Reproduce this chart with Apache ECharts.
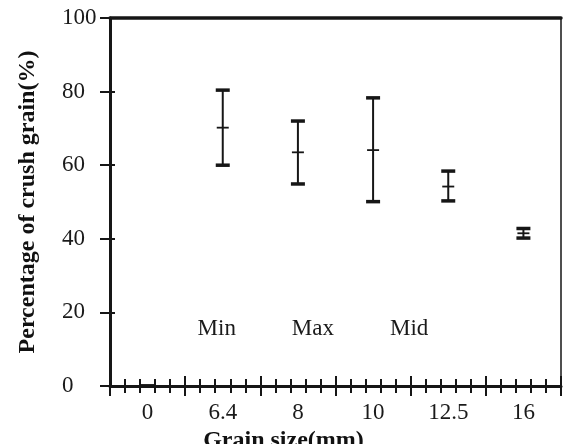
<!DOCTYPE html>
<html>
<head>
<meta charset="utf-8">
<script src="https://cdn.jsdelivr.net/npm/echarts@6/dist/echarts.min.js"></script>
<style>
  html, body { margin: 0; padding: 0; background: #fff; }
  #chart { width: 564px; height: 444px; }
</style>
</head>
<body>
<div id="chart"></div>
<script>
'use strict';

const categories = ['0', '6.4', '8', '10', '12.5', '16'];
const lowValues = [0, 60.0, 54.9, 50.1, 50.3, 40.2];
const meanValues = [0, 70.2, 63.5, 64.1, 54.2, 41.5];
const highValues = [0, 80.4, 72.0, 78.3, 58.4, 42.8];
const yTicks = [0, 20, 40, 60, 80, 100];

const noteLabels = ['Min', 'Max', 'Mid'];
const noteX = [1.42, 2.7, 3.98];
const noteY = [15.5, 15.5, 15.5];

const ink = '#161616';
const textInk = '#1a1a1a';
const serif = '"Liberation Serif", "DejaVu Serif", serif';

const barData = categories.map(function (c, i) {
    return [i, lowValues[i], meanValues[i], highValues[i]];
});
const noteData = noteLabels.map(function (n, i) {
    return [noteX[i], noteY[i], n];
});

function renderErrorBar(params, api) {
    const x = api.value(0);
    const low = api.coord([x, api.value(1)]);
    const mean = api.coord([x, api.value(2)]);
    const high = api.coord([x, api.value(3)]);
    const capW = 7;
    const meanW = 6;
    return {
        type: 'group',
        children: [
            {
                type: 'line',
                shape: { x1: high[0], y1: high[1], x2: low[0], y2: low[1] },
                style: { stroke: ink, lineWidth: 2 }
            },
            {
                type: 'line',
                shape: { x1: high[0] - capW, y1: high[1], x2: high[0] + capW, y2: high[1] },
                style: { stroke: ink, lineWidth: 3.5 }
            },
            {
                type: 'line',
                shape: { x1: low[0] - capW, y1: low[1], x2: low[0] + capW, y2: low[1] },
                style: { stroke: ink, lineWidth: 3.5 }
            },
            {
                type: 'line',
                shape: { x1: mean[0] - meanW, y1: mean[1], x2: mean[0] + meanW, y2: mean[1] },
                style: { stroke: ink, lineWidth: 1.8 }
            }
        ]
    };
}

const option = {
    backgroundColor: '#fff',
    animation: false,
    grid: {
        left: 110,
        right: 3,
        top: 18,
        bottom: 58,
        containLabel: false,
        outerBoundsMode: 'none',
        show: true,
        borderColor: ink,
        borderWidth: 1.5
    },
    xAxis: [
        {
            type: 'value',
            position: 'bottom',
            min: 0,
            max: 6,
            interval: 1,
            axisLine: { show: true, onZero: false, lineStyle: { color: ink, width: 3 } },
            axisTick: { show: true, inside: false, length: 10, lineStyle: { color: ink, width: 2 } },
            minorTick: { show: true, splitNumber: 5, length: 7, lineStyle: { color: ink, width: 2 } },
            axisLabel: { show: false },
            splitLine: { show: false },
            minorSplitLine: { show: false }
        },
        {
            type: 'value',
            position: 'bottom',
            min: 0,
            max: 6,
            interval: 1,
            axisLine: { show: false, onZero: false },
            axisTick: { show: true, inside: true, length: 10, lineStyle: { color: ink, width: 2 } },
            minorTick: { show: true, splitNumber: 5, length: 7, lineStyle: { color: ink, width: 2 } },
            axisLabel: { show: false },
            splitLine: { show: false },
            minorSplitLine: { show: false }
        },
        {
            type: 'category',
            position: 'bottom',
            data: categories,
            boundaryGap: true,
            axisLine: { show: false, onZero: false },
            axisTick: { show: false },
            axisLabel: {
                margin: 15,
                color: textInk,
                fontFamily: serif,
                fontSize: 23
            },
            splitLine: { show: false },
            name: 'Grain size(mm)',
            nameLocation: 'middle',
            nameGap: 35,
            nameTextStyle: {
                color: '#111',
                fontFamily: serif,
                fontSize: 24,
                fontWeight: 'bold',
                padding: [0, 104, 0, 0]
            }
        },
        {
            type: 'value',
            position: 'top',
            min: 0,
            max: 6,
            axisLine: { show: true, onZero: false, lineStyle: { color: ink, width: 3.5 } },
            axisTick: { show: false },
            axisLabel: { show: false },
            splitLine: { show: false }
        }
    ],
    yAxis: [
        {
            type: 'value',
            position: 'left',
            min: 0,
            max: 100,
            interval: 20,
            axisLine: { show: true, onZero: false, lineStyle: { color: ink, width: 3 } },
            axisTick: { show: true, inside: false, length: 10, lineStyle: { color: ink, width: 2 } },
            axisLabel: {
                margin: 48,
                align: 'left',
                color: textInk,
                fontFamily: serif,
                fontSize: 23,
                customValues: yTicks
            },
            splitLine: { show: false },
            name: 'Percentage of crush grain(%)',
            nameLocation: 'middle',
            nameGap: 70,
            nameTextStyle: {
                color: '#111',
                fontFamily: serif,
                fontSize: 24,
                fontWeight: 'bold'
            }
        },
        {
            type: 'value',
            position: 'left',
            min: 0,
            max: 100,
            interval: 20,
            axisLine: { show: false, onZero: false },
            axisTick: { show: true, inside: true, length: 5, lineStyle: { color: ink, width: 2 } },
            axisLabel: { show: false },
            splitLine: { show: false }
        }
    ],
    series: [
        {
            type: 'custom',
            name: 'Crush grain',
            xAxisIndex: 2,
            yAxisIndex: 0,
            renderItem: renderErrorBar,
            encode: { x: 0, y: [1, 2, 3] },
            data: barData,
            z: 10
        },
        {
            type: 'scatter',
            name: 'Notes',
            xAxisIndex: 0,
            yAxisIndex: 0,
            symbolSize: 0,
            itemStyle: { opacity: 1 },
            data: noteData,
            label: {
                show: true,
                position: 'inside',
                formatter: function (p) { return p.value[2]; },
                color: textInk,
                fontFamily: serif,
                fontSize: 23
            },
            silent: true
        }
    ]
};

const chartDom = document.getElementById('chart');
const myChart = echarts.init(chartDom);
myChart.setOption(option);
window.addEventListener('resize', function () {
    myChart.resize();
});
</script>
</body>
</html>
